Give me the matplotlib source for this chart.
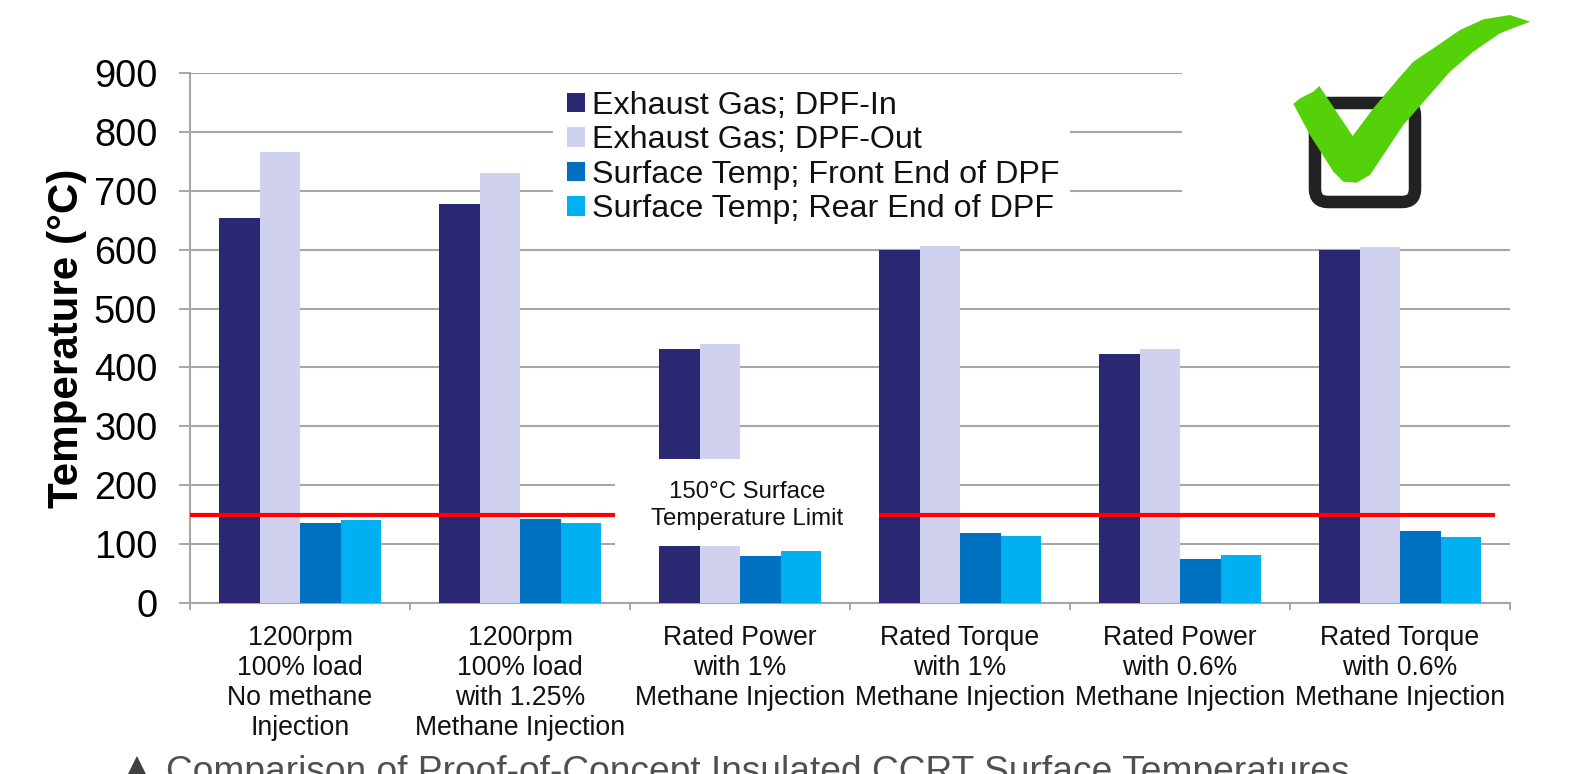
import numpy as np
import matplotlib
matplotlib.use("Agg")
import matplotlib.pyplot as plt
from matplotlib.patches import Rectangle, Polygon, FancyBboxPatch

plt.rcParams['font.family'] = ['Liberation Sans', 'DejaVu Sans']

categories = ['1200rpm\n100% load\nNo methane\nInjection',
              '1200rpm\n100% load\nwith 1.25%\nMethane Injection',
              'Rated Power\nwith 1%\nMethane Injection',
              'Rated Torque\nwith 1%\nMethane Injection',
              'Rated Power\nwith 0.6%\nMethane Injection',
              'Rated Torque\nwith 0.6%\nMethane Injection']
gas_in = [653, 677, 431, 600, 422, 600]
gas_out = [766, 730, 439, 607, 432, 604]
surf_front = [136, 142, 80, 119, 75, 122]
surf_rear = [141, 136, 89, 113, 82, 112]
series_names = ['Exhaust Gas; DPF-In', 'Exhaust Gas; DPF-Out',
                'Surface Temp; Front End of DPF', 'Surface Temp; Rear End of DPF']
series_colors = ['#2a2873', '#d0d1ee', '#0070c0', '#00b0f0']
limit_temp = 150
yticks = list(range(0, 1000, 100))

W, H = 1584, 774
GREY = '#a6a6a6'

fig = plt.figure(figsize=(W / 100, H / 100), dpi=100, facecolor='white')
ax = fig.add_axes([190 / W, 1 - 603 / H, 1320 / W, 530 / H])

x = np.arange(len(categories)) + 0.5
bar_w = 40.5 / 220
handles = []
for i, vals in enumerate([gas_in, gas_out, surf_front, surf_rear]):
    b = ax.bar(x + (i - 1.5) * bar_w, vals, bar_w, color=series_colors[i],
               label=series_names[i], zorder=3)
    handles.append(b)

ax.plot([0, 5.93], [limit_temp, limit_temp], color='#ff0000', lw=3, zorder=4,
        solid_capstyle='butt')

ax.set_xlim(0, 6)
ax.set_ylim(0, 900)
ax.set_yticks(yticks)
ax.tick_params(axis='y', labelsize=27.4, length=8, width=1.4, color=GREY, pad=15.5)
ax.set_xticks(np.arange(7))
ax.set_xticklabels([])
ax.set_xticks(x, minor=True)
ax.set_xticklabels(categories, minor=True, fontsize=19.2, linespacing=1.21, color='#111111')
ax.tick_params(axis='x', which='major', length=5, width=1.4, color=GREY)
ax.tick_params(axis='x', which='minor', length=0, pad=15.5)
ax.grid(axis='y', color=GREY, lw=1.5, zorder=1)
ax.set_axisbelow(True)
for s in ['top', 'right']:
    ax.spines[s].set_visible(False)
for s in ['left', 'bottom']:
    ax.spines[s].set_color(GREY)
    ax.spines[s].set_linewidth(1.5)
ax.set_ylabel('Temperature (°C)', fontsize=30.3, fontweight='bold')
ax.yaxis.set_label_coords(-0.078, 0.5)

# overlay in pixel coordinates for the pasted-on pieces of the slide
ov = fig.add_axes([0, 0, 1, 1], facecolor='none')
ov.set_xlim(0, W)
ov.set_ylim(H, 0)
ov.axis('off')

# white boxes that hide the chart behind legend, label and check mark
ov.add_patch(Rectangle((553, 85), 517, 155, fc='white', ec='none'))
ov.add_patch(Rectangle((615, 459), 264, 87, fc='white', ec='none'))
ov.add_patch(Rectangle((1182, 0), 402, 240, fc='white', ec='none'))

leg = ov.legend([h[0] for h in handles], series_names, loc='upper left',
                bbox_to_anchor=(541.5 / W, 1 - 65 / H), frameon=False, fontsize=23.2,
                handlelength=0.56, handleheight=0.56, handletextpad=0.2,
                labelspacing=0.14, borderpad=0.3, labelcolor='#111111')

ov.text(747, 492, '150°C Surface', fontsize=17.3, ha='center', va='center', color='#111111')
ov.text(747, 519, 'Temperature Limit', fontsize=17.3, ha='center', va='center', color='#111111')

# check box and brush tick
ov.add_patch(FancyBboxPatch((1315, 103), 100, 99, boxstyle='round,pad=0,rounding_size=13',
                            fc='none', ec='#222222', lw=9))
tick = [(280, 312), (300, 295), (340, 275), (358, 258), (458, 408), (520, 325), (600, 230),
        (640, 185), (700, 145), (780, 90), (850, 58), (930, 45), (990, 65), (900, 100),
        (820, 155), (750, 215), (680, 295), (610, 375), (540, 480), (510, 525), (470, 548),
        (430, 545), (400, 515), (330, 405)]
ov.add_patch(Polygon([(1200 + a / 3, b / 3) for a, b in tick], fc='#55d10a', ec='none'))
feather = [(700, 150), (760, 95), (840, 55), (945, 36), (960, 50), (860, 75), (770, 120)]
ov.add_patch(Polygon([(1200 + a / 3, b / 3) for a, b in feather], fc='#a5e57e', ec='none',
                     zorder=0.5))

ov.text(122, 780, '▲', fontsize=28, family='DejaVu Sans', color='#404040', ha='left',
        va='baseline', clip_on=False)
ov.text(166, 782, 'Comparison of Proof-of-Concept Insulated CCRT Surface Temperatures',
        fontsize=26.7, color='#505050', ha='left', va='baseline', clip_on=False)

fig.savefig('out.png', dpi=100)
